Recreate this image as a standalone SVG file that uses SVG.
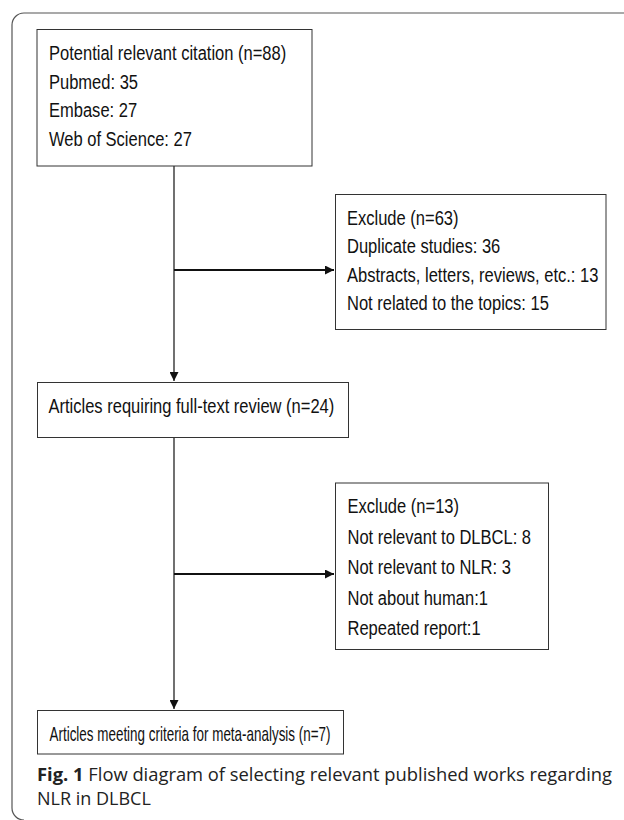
<svg xmlns="http://www.w3.org/2000/svg" width="624" height="820" viewBox="0 0 624 820">
  <style>
    .frame { fill: none; stroke: #555; stroke-width: 1.2; }
    .box { fill: #fff; stroke: #333; stroke-width: 1; }
    .lbl { font-family: "Liberation Sans", Arial, sans-serif; font-size: 21px; fill: #111; }
    .wire { fill: none; stroke: #111; stroke-width: 1.2; }
    .wire-h { fill: none; stroke: #111; stroke-width: 2; }
    .cap { font-family: "Open Sans", "Noto Sans", sans-serif; font-size: 18px; fill: #222; }
    .cap-b { font-weight: bold; }
  </style>
  <defs>
    <marker id="head" viewBox="0 0 10 10" refX="10" refY="5" markerWidth="9" markerHeight="9" markerUnits="userSpaceOnUse" orient="auto">
      <path d="M0,0 L10,5 L0,10 Z" fill="#111"/>
    </marker>
  </defs>

  <!-- figure frame: top and left rule with rounded corners -->
  <path class="frame" d="M624,13 H24 A12,12 0 0 0 12,25 V808 A12,12 0 0 0 24,820"/>

  <!-- connectors -->
  <g id="connectors">
    <line class="wire" x1="174" y1="166" x2="174" y2="381" marker-end="url(#head)"/>
    <line class="wire-h" x1="174" y1="270" x2="334" y2="270" marker-end="url(#head)"/>
    <line class="wire" x1="174" y1="437" x2="174" y2="709" marker-end="url(#head)"/>
    <line class="wire-h" x1="174" y1="574" x2="334" y2="574" marker-end="url(#head)"/>
  </g>

  <g id="identified">
    <rect class="box" x="37" y="29.5" width="275" height="136.5"/>
    <g transform="translate(49,0) scale(0.787,1)">
      <text class="lbl" x="0" y="60.5">Potential relevant citation (n=88)</text>
      <text class="lbl" x="0" y="89">Pubmed: 35</text>
      <text class="lbl" x="0" y="117.5">Embase: 27</text>
      <text class="lbl" x="0" y="146">Web of Science: 27</text>
    </g>
  </g>

  <g id="excluded-1">
    <rect class="box" x="335.5" y="194.5" width="270.5" height="135"/>
    <g transform="translate(347,0) scale(0.787,1)">
      <text class="lbl" x="0" y="225">Exclude (n=63)</text>
      <text class="lbl" x="0" y="253.5">Duplicate studies: 36</text>
      <text class="lbl" x="0" y="282">Abstracts, letters, reviews, etc.: 13</text>
      <text class="lbl" x="0" y="310.5">Not related to the topics: 15</text>
    </g>
  </g>

  <g id="full-text">
    <rect class="box" x="37.5" y="382.5" width="311" height="55"/>
    <g transform="translate(48.5,0) scale(0.787,1)">
      <text class="lbl" x="0" y="413.5">Articles requiring full-text review (n=24)</text>
    </g>
  </g>

  <g id="excluded-2">
    <rect class="box" x="335.5" y="483" width="213" height="166.5"/>
    <g transform="translate(347.5,0) scale(0.787,1)">
      <text class="lbl" x="0" y="513.5">Exclude (n=13)</text>
      <text class="lbl" x="0" y="544">Not relevant to DLBCL: 8</text>
      <text class="lbl" x="0" y="574.5">Not relevant to NLR: 3</text>
      <text class="lbl" x="0" y="605">Not about human:1</text>
      <text class="lbl" x="0" y="635.5">Repeated report:1</text>
    </g>
  </g>

  <g id="included">
    <rect class="box" x="37.5" y="710.5" width="306" height="43.5"/>
    <text class="lbl" x="49.5" y="741" textLength="281" lengthAdjust="spacingAndGlyphs">Articles meeting criteria for meta-analysis (n=7)</text>
  </g>

  <g id="caption">
    <text class="cap" x="37" y="781" textLength="575" lengthAdjust="spacingAndGlyphs"><tspan class="cap-b">Fig. 1</tspan>  Flow diagram of selecting relevant published works regarding</text>
    <text class="cap" x="37" y="805">NLR in DLBCL</text>
  </g>
</svg>
